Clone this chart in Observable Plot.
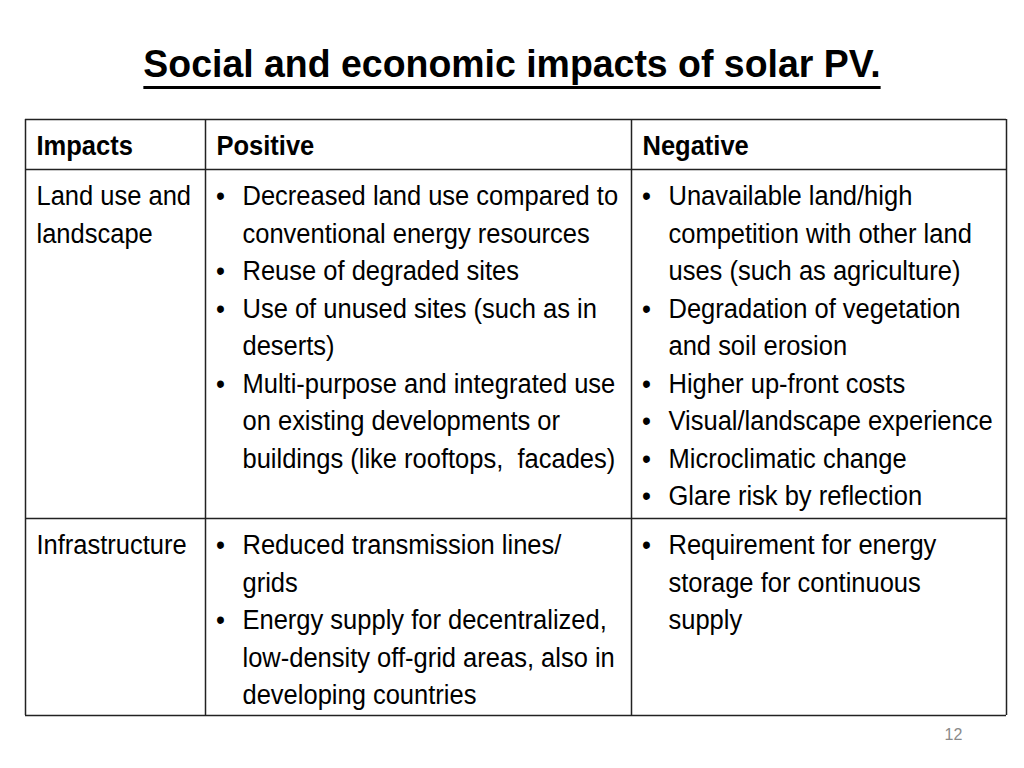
<!DOCTYPE html>
<html>
<head>
<meta charset="utf-8">
<script src="https://cdn.jsdelivr.net/npm/d3@7"></script>
<script src="https://cdn.jsdelivr.net/npm/@observablehq/plot@0.6"></script>
<style>
  body { margin: 0; background: #fff; width: 1024px; height: 768px; overflow: hidden;
         font-family: "Liberation Sans", Arial, sans-serif; }
  #title { height: 110px; box-sizing: border-box; padding-top: 45px; text-align: center;
           font-size: 39px; line-height: 38px; font-weight: bold; color: #000; white-space: nowrap; }
  #title span { display: inline-block; transform: scaleX(0.96);
                text-decoration: underline; text-decoration-thickness: 3px; text-underline-offset: 9px; }
  #chart svg { display: block; }
</style>
</head>
<body>
<div id="title"><span></span></div>
<div id="chart"></div>
<script>
// ---- Data ----
const title = "Social and economic impacts of solar PV.";
const headers = ["Impacts", "Positive", "Negative"];
const impacts = [
  ["Land use and", "landscape"],
  ["Infrastructure"]
];
const positiveLand = [
  ["Decreased land use compared to", "conventional energy resources"],
  ["Reuse of degraded sites"],
  ["Use of unused sites (such as in", "deserts)"],
  ["Multi-purpose and integrated use", "on existing developments or", "buildings (like rooftops,  facades)"]
];
const negativeLand = [
  ["Unavailable land/high", "competition with other land", "uses (such as agriculture)"],
  ["Degradation of vegetation", "and soil erosion"],
  ["Higher up-front costs"],
  ["Visual/landscape experience"],
  ["Microclimatic change"],
  ["Glare risk by reflection"]
];
const positiveInfra = [
  ["Reduced transmission lines/", "grids"],
  ["Energy supply for decentralized,", "low-density off-grid areas, also in", "developing countries"]
];
const negativeInfra = [
  ["Requirement for energy", "storage for continuous", "supply"]
];
const pageNumber = "12";

// ---- Layout (page pixels) ----
const TOP = 110;                       // svg top offset on page
const W = 1024, H = 768 - TOP;
const colEdges = [25, 205, 631, 1006];
const rowEdges = [119, 169, 518, 715];
const lineH = 37.5;
const FONT = '"Liberation Sans", Arial, sans-serif';
const FS = 27;
const NARROW = 0.945;                  // slight horizontal compression (narrow face look)

document.querySelector("#title span").textContent = title;

// Build text lines
const lines = [];
const bullets = [];
headers.forEach((h, c) => lines.push({x: colEdges[c] + 11, y: rowEdges[0] + 35.5 - TOP, text: h, bold: true}));
const body = [
  [impacts[0], positiveLand, negativeLand],
  [impacts[1], positiveInfra, negativeInfra]
];
body.forEach((row, r) => {
  const y0 = rowEdges[r + 1] + 35.5 - TOP;
  row[0].forEach((t, i) => lines.push({x: colEdges[0] + 11, y: y0 + i * lineH, text: t, bold: false}));
  [1, 2].forEach(c => {
    let k = 0;
    row[c].forEach(item => {
      bullets.push({x: colEdges[c] + 15, y: y0 + k * lineH});
      item.forEach(t => { lines.push({x: colEdges[c] + 37, y: y0 + k * lineH, text: t, bold: false}); k++; });
    });
  });
});

const hRules = rowEdges.map(y => ({y: y - TOP, x1: colEdges[0], x2: colEdges[3]}));
const vRules = colEdges.map(x => ({x, y1: rowEdges[0] - TOP, y2: rowEdges[3] - TOP}));

const chart = Plot.plot({
  width: W, height: H,
  margin: 0,
  x: {type: "linear", domain: [0, W], range: [0, W], axis: null},
  y: {type: "linear", domain: [0, H], range: [0, H], axis: null},
  marks: [
    Plot.ruleY(hRules, {y: "y", x1: "x1", x2: "x2", stroke: "#222", strokeWidth: 1.5}),
    Plot.ruleX(vRules, {x: "x", y1: "y1", y2: "y2", stroke: "#222", strokeWidth: 1.5}),
    Plot.text(lines.filter(d => d.bold), {x: "x", y: "y", text: "text", textAnchor: "start", lineAnchor: "bottom",
      fontFamily: FONT, fontSize: FS, fontWeight: "bold", fill: "#000"}),
    Plot.text(lines.filter(d => !d.bold), {x: "x", y: "y", text: "text", textAnchor: "start", lineAnchor: "bottom",
      fontFamily: FONT, fontSize: FS, fill: "#000"}),
    Plot.text(bullets, {x: "x", y: "y", text: () => "•", textAnchor: "middle", lineAnchor: "bottom",
      fontFamily: FONT, fontSize: FS, fill: "#000"}),
    Plot.text([pageNumber], {x: () => 953, y: () => 739 - TOP, text: d => d, textAnchor: "middle", lineAnchor: "bottom",
      fontFamily: FONT, fontSize: 17, fill: "#8a8a8a"})
  ]
});
// compress glyphs slightly around each text's anchor
chart.querySelectorAll("text").forEach(t => {
  const tr = t.getAttribute("transform") || "";
  const x = t.getAttribute("x");
  if (tr) t.setAttribute("transform", tr + ` scale(${NARROW},1)`);
  else if (x != null) t.setAttribute("transform", `translate(${x},0) scale(${NARROW},1) translate(${-x},0)`);
});
document.getElementById("chart").appendChild(chart);
</script>
</body>
</html>
